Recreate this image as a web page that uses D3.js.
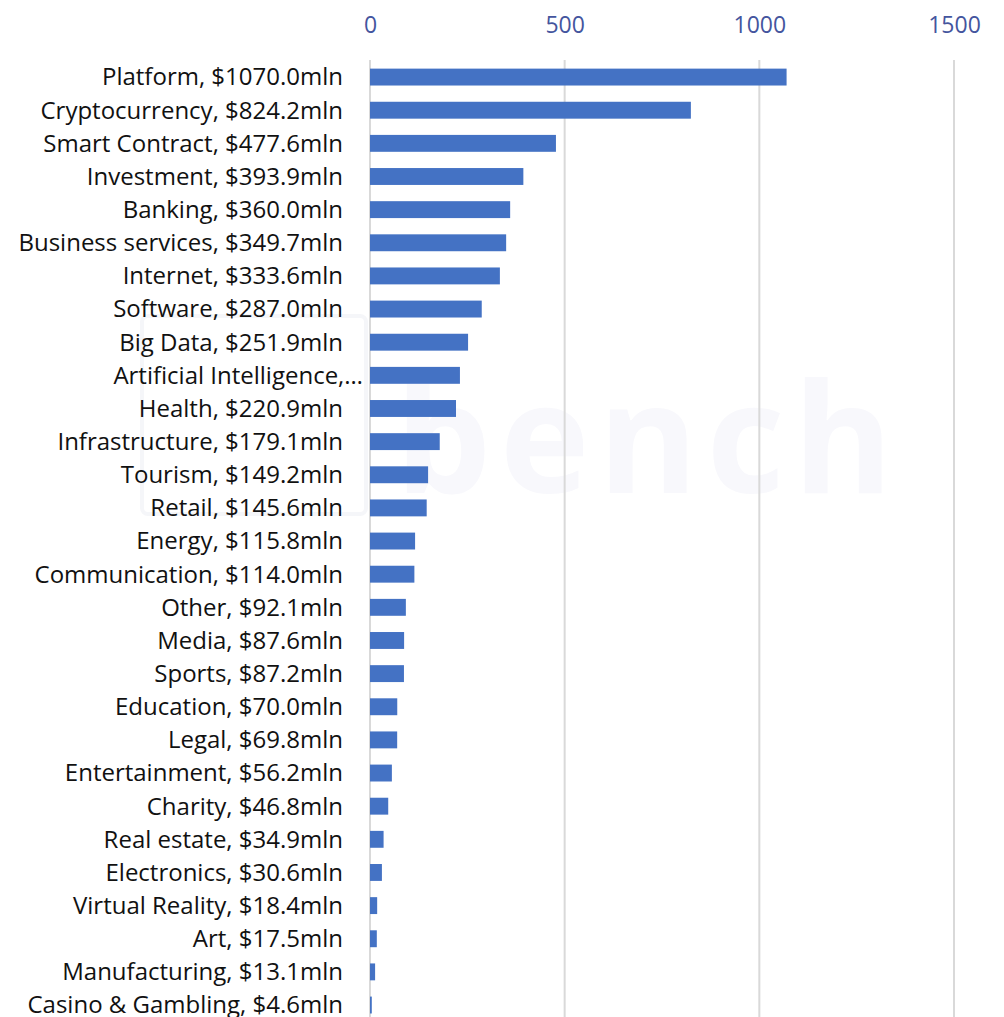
<!DOCTYPE html>
<html>
<head>
<meta charset="utf-8">
<script src="https://cdn.jsdelivr.net/npm/d3@7"></script>
<style>
  html, body { margin: 0; padding: 0; background: #fff; }
  svg { display: block; }
  text { font-family: "Open Sans", sans-serif; }
</style>
</head>
<body>
<svg id="chart" width="1004" height="1017"></svg>
<script>
// Funds raised by industry, $ million
const categories = [
  "Platform", "Cryptocurrency", "Smart Contract", "Investment", "Banking",
  "Business services", "Internet", "Software", "Big Data", "Artificial Intelligence",
  "Health", "Infrastructure", "Tourism", "Retail", "Energy",
  "Communication", "Other", "Media", "Sports", "Education",
  "Legal", "Entertainment", "Charity", "Real estate", "Electronics",
  "Virtual Reality", "Art", "Manufacturing", "Casino & Gambling"
];
const values = [
  1070.0, 824.2, 477.6, 393.9, 360.0,
  349.7, 333.6, 287.0, 251.9, 231.0,
  220.9, 179.1, 149.2, 145.6, 115.8,
  114.0, 92.1, 87.6, 87.2, 70.0,
  69.8, 56.2, 46.8, 34.9, 30.6,
  18.4, 17.5, 13.1, 4.6
];
const tickValues = [0, 500, 1000, 1500];

const data = categories.map((c, i) => ({ name: c, value: values[i] }));

const svg = d3.select("#chart");

const x = d3.scaleLinear().domain([0, 1500]).range([370, 954]);
const y = d3.scaleBand()
  .domain(categories)
  .range([60.5, 1021.6])
  .paddingInner(0.49)
  .paddingOuter(0.245);

// faint watermark behind the plot
const wm = svg.append("g").attr("class", "watermark");
wm.append("rect")
  .attr("x", 142).attr("y", 316).attr("width", 224).attr("height", 198)
  .attr("rx", 6)
  .attr("fill", "none").attr("stroke", "#f5f6f9").attr("stroke-width", 4);
wm.append("text")
  .attr("x", 395).attr("y", 493)
  .attr("font-size", 152).attr("font-weight", 700)
  .attr("fill", "#f8f8fc")
  .attr("textLength", 498)
  .text("bench");

// vertical gridlines
svg.append("g")
  .selectAll("line")
  .data(tickValues)
  .join("line")
  .attr("x1", d => x(d)).attr("x2", d => x(d))
  .attr("y1", 60).attr("y2", 1017)
  .attr("stroke", "#d9d9d9")
  .attr("stroke-width", 2);

// top axis labels
const axis = d3.axisTop(x).tickValues(tickValues).tickFormat(d3.format("d"))
  .tickSize(0).tickPadding(0);
const axisG = svg.append("g")
  .attr("transform", "translate(0,33)")
  .call(axis);
axisG.select(".domain").remove();
axisG.selectAll("text")
  .attr("font-family", "Open Sans, sans-serif")
  .attr("font-size", 23)
  .attr("fill", "#44559e");

// bars
svg.append("g")
  .selectAll("rect")
  .data(data)
  .join("rect")
  .attr("x", x(0))
  .attr("y", d => y(d.name))
  .attr("width", d => x(d.value) - x(0))
  .attr("height", y.bandwidth())
  .attr("fill", "#4472c4");

// category labels; long ones are cut at a word boundary and end with an ellipsis
const maxLabelWidth = 335;
const labels = svg.append("g")
  .selectAll("text")
  .data(data)
  .join("text")
  .attr("x", 343)
  .attr("y", d => y(d.name) + y.bandwidth() / 2)
  .attr("dy", "0.35em")
  .attr("text-anchor", "end")
  .attr("font-size", 24)
  .attr("fill", "#111")
  .text(d => `${d.name}, $${d.value.toFixed(1)}mln`);

labels.each(function() {
  const el = d3.select(this);
  if (this.getComputedTextLength() <= maxLabelWidth) return;
  const words = el.text().split(" ");
  while (words.length > 1) {
    words.pop();
    el.text(words.join(" ") + "…");
    if (this.getComputedTextLength() <= maxLabelWidth) break;
  }
  // the ellipsis hangs past the right edge of the label column
  el.attr("x", 363);
});
</script>
</body>
</html>
